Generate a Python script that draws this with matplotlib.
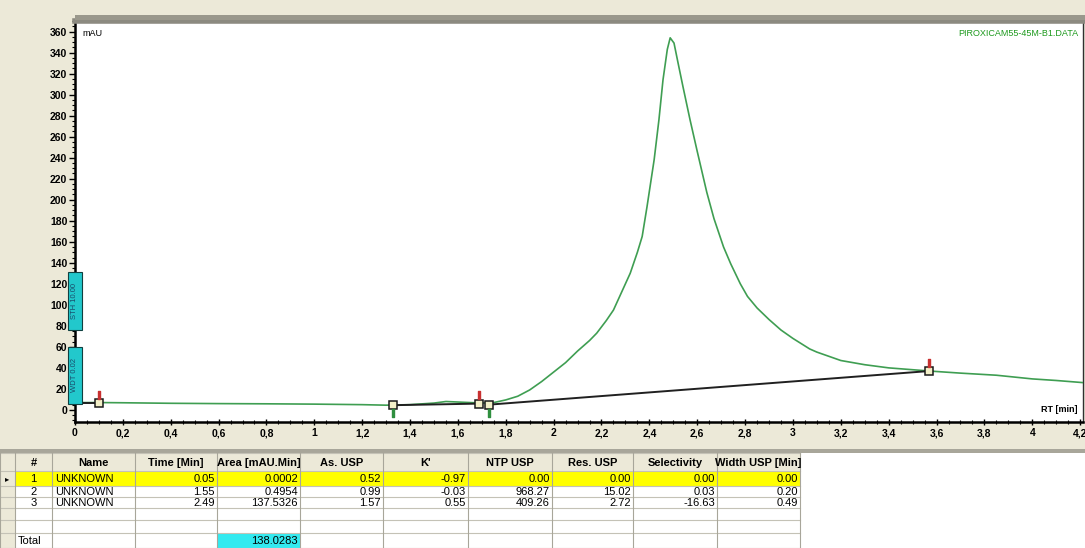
import matplotlib
matplotlib.use("Agg")
import matplotlib.pyplot as plt
from matplotlib.patches import Rectangle
from matplotlib.ticker import MultipleLocator, FuncFormatter

# ---------------- data ----------------
rt = [0.0, 0.1, 0.2, 0.4, 0.6, 0.8, 1.0, 1.2, 1.3, 1.4, 1.5, 1.55, 1.6, 1.7, 1.75,
      1.8, 1.85, 1.9, 1.95, 2.0, 2.05, 2.1, 2.15, 2.18, 2.22, 2.25, 2.28, 2.32,
      2.35, 2.37, 2.39, 2.42, 2.44, 2.457, 2.475, 2.487, 2.503, 2.52, 2.54, 2.57,
      2.6, 2.64, 2.67, 2.71, 2.74, 2.78, 2.81, 2.85, 2.9, 2.95, 3.0, 3.07, 3.1,
      3.2, 3.3, 3.4, 3.57, 3.7, 3.85, 4.0, 4.1, 4.21]
mau = [7, 7, 6.8, 6.3, 6, 5.8, 5.5, 5, 4.5, 5, 6.5, 8, 7.5, 6.5, 7,
       9.5, 13, 19, 27, 36, 45, 56, 66, 73, 85, 95, 110, 130,
       150, 165, 193, 238, 276, 314, 343, 354, 349, 330, 308, 276,
       246, 207, 182, 155, 139, 120, 108, 97, 86, 76, 68, 58, 55,
       47, 43, 40, 37, 35, 33, 29.5, 28, 26]

baseline_x = [[0.0, 0.1], [1.33, 1.69], [1.73, 3.57]]
baseline_y = [[7, 7], [4.5, 6], [5, 37]]
marker_x = [0.1, 1.33, 1.69, 1.73, 3.57]
marker_y = [7, 4.5, 6, 5, 37]
start_x = [0.1, 1.69, 3.57]
start_y = [14, 14, 45]
end_x = [1.33, 1.73]
end_y = [-3, -3]

event_labels = ["STH 10.00", "WDT 0.02"]
event_y = [(76, 131), (6, 60)]

headers = ["#", "Name", "Time [Min]", "Area [mAU.Min]", "As. USP", "K'",
           "NTP USP", "Res. USP", "Selectivity", "Width USP [Min]"]
peak_no = ["1", "2", "3"]
names = ["UNKNOWN", "UNKNOWN", "UNKNOWN"]
times = ["0.05", "1.55", "2.49"]
areas = ["0.0002", "0.4954", "137.5326"]
asym = ["0.52", "0.99", "1.57"]
kprime = ["-0.97", "-0.03", "0.55"]
ntp = ["0.00", "968.27", "409.26"]
res = ["0.00", "15.02", "2.72"]
sel = ["0.00", "0.03", "-16.63"]
width = ["0.00", "0.20", "0.49"]
total_label = "Total"
total_area = "138.0283"

# ---------------- style ----------------
W, H = 1085, 548
BEIGE = "#ece9d8"
GREEN = "#3f9e52"
FONT = ["Liberation Sans Narrow", "Liberation Sans", "DejaVu Sans"]
plt.rcParams["font.family"] = FONT

fig = plt.figure(figsize=(W / 100, H / 100), dpi=100, facecolor=BEIGE)

def px_rect(x0, y0, x1, y1):
    return [x0 / W, 1 - y1 / H, (x1 - x0) / W, (y1 - y0) / H]

ax = fig.add_axes(px_rect(75, 21, 1083, 422))
ax.set_facecolor("white")

ax.plot(rt, mau, color=GREEN, lw=1.2, zorder=3, solid_joinstyle="round")
for bx, by in zip(baseline_x, baseline_y):
    ax.plot(bx, by, color="#202020", lw=1.4, zorder=4)
ax.plot(marker_x, marker_y, ls="none", marker="s", ms=6, mfc="#f3f0c8",
        mec="#1a1a1a", mew=1.1, zorder=5)
ax.plot(start_x, start_y, ls="none", marker="$\\mathrm{I}$", ms=6, color="#c83030", zorder=5)
ax.plot(end_x, end_y, ls="none", marker="$\\mathrm{I}$", ms=6, color="#2f8f3f", zorder=5)

for lab, (y0, y1) in zip(event_labels, event_y):
    r = Rectangle((-0.029, y0), 0.058, y1 - y0, facecolor="#22c8cc",
                  edgecolor="#104040", lw=0.8, clip_on=False, zorder=6)
    ax.add_patch(r)
    ax.text(0.0, (y0 + y1) / 2, lab, rotation=90, ha="center", va="center",
            fontsize=5.5, color="#1a4a6a", clip_on=False, zorder=7)

ax.xaxis.set_major_locator(MultipleLocator(0.2))
ax.xaxis.set_minor_locator(MultipleLocator(0.05))
ax.yaxis.set_major_locator(plt.FixedLocator(list(range(0, 361, 20))))
ax.yaxis.set_minor_locator(MultipleLocator(5))

def fmt_x(v, pos):
    s = ("%.1f" % v).rstrip("0").rstrip(".")
    return s.replace(".", ",")

ax.xaxis.set_major_formatter(FuncFormatter(fmt_x))
ax.yaxis.set_major_formatter(FuncFormatter(lambda v, p: "%d" % round(v)))
ax.set_xlim(0, 4.212)
ax.set_ylim(-11.5, 370)

ax.tick_params(axis="both", which="major", labelsize=7.5, length=4, width=1,
               color="black", pad=1.5)
ax.tick_params(axis="x", which="both", direction="inout")
ax.tick_params(axis="x", which="major", length=5, pad=2)
ax.tick_params(axis="both", which="minor", length=2.5, width=0.8)
ax.tick_params(axis="y", which="both", direction="out")
for lab in ax.get_xticklabels() + ax.get_yticklabels():
    lab.set_fontweight("bold")
    lab.set_family(["Liberation Sans", "DejaVu Sans"])

ax.spines["left"].set_linewidth(1.8)
ax.spines["bottom"].set_linewidth(1.8)
ax.spines["left"].set_color("black")
ax.spines["bottom"].set_color("black")
ax.spines["top"].set_linewidth(4)
ax.spines["top"].set_color("#8c8a80")
ax.spines["right"].set_linewidth(1.0)
ax.spines["right"].set_color("#303030")

ax.text(0.007, 0.968, "mAU", transform=ax.transAxes, fontsize=6.5,
        ha="left", va="center", family=["Liberation Sans", "DejaVu Sans"])
ax.text(0.995, 0.968, "PIROXICAM55-45M-B1.DATA", transform=ax.transAxes,
        fontsize=6.5, ha="right", va="center", color="#1e9a1e",
        family=["Liberation Sans", "DejaVu Sans"])
ax.text(0.995, 0.03, "RT [min]", transform=ax.transAxes, fontsize=6.5,
        ha="right", va="center", fontweight="bold",
        family=["Liberation Sans", "DejaVu Sans"])

fig.patches.append(Rectangle((75 / W, 1 - 20 / H), 1, 5 / H, transform=fig.transFigure,
                             facecolor="#9a988c", edgecolor="none", zorder=0))

# ---------------- table ----------------
tax = fig.add_axes([0, 0, 1, 1], zorder=-1)
tax.set_xlim(0, W)
tax.set_ylim(H, 0)
tax.axis("off")
tax.patch.set_alpha(0)

col_edges = [15, 52, 135, 217, 300, 383, 468, 552, 633, 717, 800]
row_edges = [453, 471, 486, 497, 508, 520, 533, 548]

tax.add_patch(Rectangle((0, 452), W, H - 452, facecolor="white", edgecolor="none"))
tax.add_patch(Rectangle((0, 449), W, 4, facecolor="#a8a69a", edgecolor="none"))
tax.add_patch(Rectangle((0, row_edges[0]), col_edges[0], H - row_edges[0],
                        facecolor=BEIGE, edgecolor="none"))
tax.add_patch(Rectangle((col_edges[0], row_edges[0]), col_edges[-1] - col_edges[0],
                        row_edges[1] - row_edges[0], facecolor=BEIGE, edgecolor="none"))
tax.add_patch(Rectangle((col_edges[0], row_edges[1]), col_edges[-1] - col_edges[0],
                        row_edges[2] - row_edges[1], facecolor="#ffff00", edgecolor="none"))
tax.add_patch(Rectangle((col_edges[3], row_edges[-2]), col_edges[4] - col_edges[3],
                        row_edges[-1] - row_edges[-2], facecolor="#33eaf0", edgecolor="none"))

for y in row_edges:
    tax.plot([0, col_edges[-1]], [y, y], color="#c4c2b6", lw=0.8)
for x in [0] + col_edges:
    tax.plot([x, x], [row_edges[0], H], color="#a8a69a", lw=0.8)

TF = 8
def cell_text(ci, ri, s, ha="right", weight="normal"):
    x0, x1 = col_edges[ci], col_edges[ci + 1]
    y0, y1 = row_edges[ri], row_edges[ri + 1]
    if ha == "right":
        x = x1 - 2
    elif ha == "left":
        x = x0 + 3
    else:
        x = (x0 + x1) / 2
    t = tax.text(x, (y0 + y1) / 2 + 0.5, s, ha=ha, va="center", fontsize=TF,
                 fontweight=weight, color="black")
    clip = Rectangle((x0, y0), x1 - x0, y1 - y0, transform=tax.transData)
    t.set_clip_path(clip)
    return t

for ci, h in enumerate(headers):
    cell_text(ci, 0, h, ha="center", weight="bold")

cols = [peak_no, names, times, areas, asym, kprime, ntp, res, sel, width]
for ri in range(3):
    for ci, col in enumerate(cols):
        if ci == 0:
            cell_text(ci, ri + 1, col[ri], ha="center")
        elif ci == 1:
            cell_text(ci, ri + 1, col[ri], ha="left")
        else:
            cell_text(ci, ri + 1, col[ri], ha="right")

tax.text(7, (row_edges[1] + row_edges[2]) / 2, "\u25b8", ha="center", va="center",
         fontsize=6, family=["DejaVu Sans"])
cell_text(0, len(row_edges) - 2, total_label, ha="left")
cell_text(3, len(row_edges) - 2, total_area, ha="right")

fig.savefig("out.png", dpi=100, facecolor=BEIGE)
